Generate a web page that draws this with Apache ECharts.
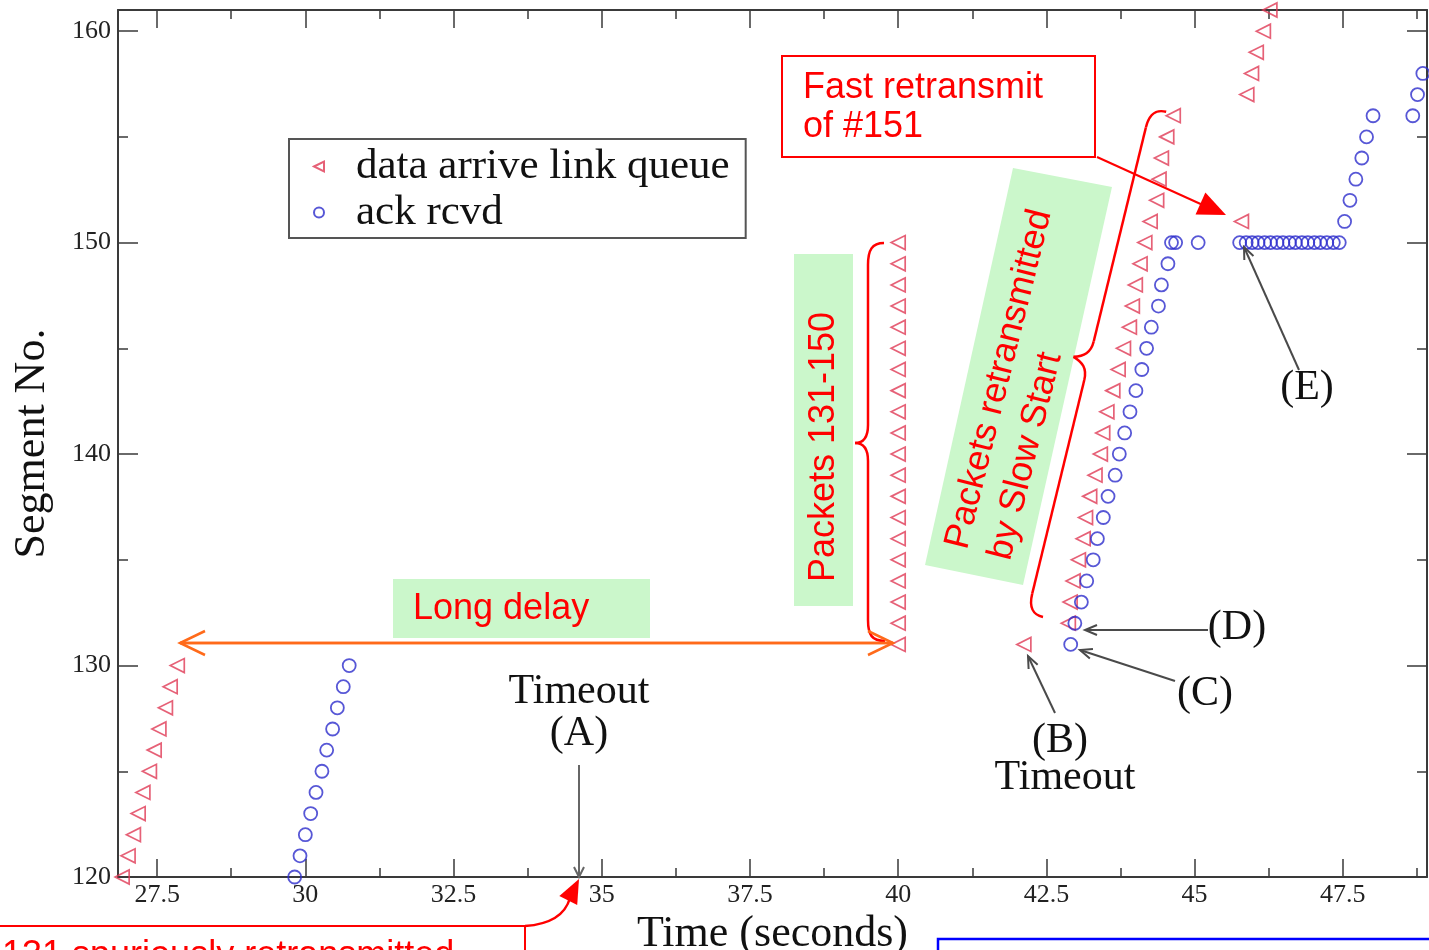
<!DOCTYPE html>
<html><head><meta charset="utf-8">
<script src="https://cdn.jsdelivr.net/npm/echarts@6/dist/echarts.min.js"></script>
<style>html,body{margin:0;padding:0;background:#fff;overflow:hidden}#c{width:1429px;height:950px}</style>
</head><body><div id="c"></div>
<script>
// ---------- axis ticks ----------
const xMajorTicks = [27.5, 30, 32.5, 35, 37.5, 40, 42.5, 45, 47.5];
const xMinorTicks = [28.75, 31.25, 33.75, 36.25, 38.75, 41.25, 43.75, 46.25, 48.75];
const yMajorTicks = [120, 130, 140, 150, 160];
const yMinorTicks = [125, 135, 145, 155];
const X_MIN = 26.84, X_MAX = 48.92, Y_MIN = 120, Y_MAX = 161;

// ---------- data arrive link queue (time, segment) ----------
const sendBurst1 = [[26.91,120],[27.01,121],[27.10,122],[27.18,123],[27.26,124],[27.37,125],[27.45,126],[27.53,127],[27.64,128],[27.72,129],[27.84,130]];
const sendBurst2 = [[40.00,131],[40.00,132],[40.00,133],[40.00,134],[40.00,135],[40.00,136],[40.00,137],[40.00,138],[40.00,139],[40.00,140],[40.00,141],[40.00,142],[40.00,143],[40.00,144],[40.00,145],[40.00,146],[40.00,147],[40.00,148],[40.00,149],[40.00,150]];
const sendTimeoutB = [[42.12,131]];
const sendSlowStart = [[42.87,132],[42.90,133],[42.95,134],[43.04,135],[43.12,136],[43.16,137],[43.23,138],[43.32,139],[43.41,140],[43.45,141],[43.52,142],[43.62,143],[43.71,144],[43.80,145],[43.90,146],[43.95,147],[44.00,148],[44.08,149],[44.16,150],[44.25,151],[44.36,152],[44.40,153],[44.44,154],[44.53,155],[44.64,156]];
const sendFastRetx = [[45.79,151]];
const sendBurst3 = [[45.88,157],[45.96,158],[46.04,159],[46.16,160],[46.27,161]];

// ---------- ack rcvd (time, segment) ----------
const ackBurst1 = [[29.82,120],[29.91,121],[30.00,122],[30.09,123],[30.18,124],[30.28,125],[30.36,126],[30.46,127],[30.54,128],[30.64,129],[30.74,130]];
const ackSlowStart = [[42.91,131],[42.98,132],[43.09,133],[43.18,134],[43.29,135],[43.36,136],[43.46,137],[43.54,138],[43.66,139],[43.73,140],[43.82,141],[43.91,142],[44.01,143],[44.11,144],[44.19,145],[44.27,146],[44.39,147],[44.44,148],[44.55,149],[44.61,150],[44.68,150],[45.06,150]];
const ackDup150 = [[45.76,150],[45.87,150],[45.97,150],[46.07,150],[46.18,150],[46.28,150],[46.39,150],[46.49,150],[46.60,150],[46.70,150],[46.81,150],[46.91,150],[47.02,150],[47.12,150],[47.23,150],[47.34,150],[47.44,150]];
const ackBurst2 = [[47.53,151],[47.62,152],[47.72,153],[47.82,154],[47.90,155],[48.01,156],[48.68,156],[48.76,157],[48.85,158]];

const sendData = [].concat(sendBurst1, sendBurst2, sendTimeoutB, sendSlowStart, sendFastRetx, sendBurst3);
const ackData = [].concat(ackBurst1, ackSlowStart, ackDup150, ackBurst2);

// ---------- styles ----------
const SERIF = '"Liberation Serif","DejaVu Serif",serif';
const SANS = '"Liberation Sans",Arial,sans-serif';
const AX = '#3a3a3a';
const RED = '#ff0000';
const GREEN = '#cbf7cb';
const GRAY = '#4a4a4a';
const MK_RED = '#e03a55';
const MK_BLUE = '#2d2dcc';

function tickAxis(kind, position, values, len, withLine) {
  return {
    type: 'value', position: position,
    min: kind === 'x' ? X_MIN : Y_MIN, max: kind === 'x' ? X_MAX : Y_MAX,
    splitLine: { show: false },
    axisLine: { show: !!withLine, onZero: false, lineStyle: { color: AX, width: 2 } },
    axisLabel: { show: false },
    axisTick: { show: true, inside: true, length: len, customValues: values, lineStyle: { color: AX, width: 1.5 } }
  };
}

const xMain = tickAxis('x', 'bottom', xMajorTicks, 18, true);
xMain.axisLabel = { show: true, customValues: xMajorTicks, fontFamily: SERIF, fontSize: 26, color: '#222', margin: 5 };
xMain.name = 'Time (seconds)';
xMain.nameLocation = 'middle';
xMain.nameGap = 20;
xMain.nameTextStyle = { fontFamily: SERIF, fontSize: 44, color: '#111', verticalAlign: 'top' };

const yMain = tickAxis('y', 'left', yMajorTicks, 20, true);
yMain.axisLabel = { show: true, customValues: yMajorTicks, fontFamily: SERIF, fontSize: 26, color: '#222', margin: 7 };
yMain.name = 'Segment No.';
yMain.nameLocation = 'middle';
yMain.nameGap = 64;
yMain.nameTextStyle = { fontFamily: SERIF, fontSize: 44, color: '#111' };

// ---------- annotation helpers ----------
function openArrow(x1, y1, x2, y2, color, w, hl, hw) {
  const dx = x2 - x1, dy = y2 - y1, L = Math.hypot(dx, dy), ux = dx / L, uy = dy / L;
  const bx = x2 - ux * hl, by = y2 - uy * hl, px = -uy * hw, py = ux * hw;
  return [
    { type: 'line', z: 20, shape: { x1: x1, y1: y1, x2: x2, y2: y2 }, style: { stroke: color, lineWidth: w } },
    { type: 'polyline', z: 20, shape: { points: [[bx + px, by + py], [x2, y2], [bx - px, by - py]] }, style: { stroke: color, lineWidth: w, fill: null } }
  ];
}
function filledHead(fx, fy, x2, y2, color, hl, hw) {
  const dx = x2 - fx, dy = y2 - fy, L = Math.hypot(dx, dy), ux = dx / L, uy = dy / L;
  const bx = x2 - ux * hl, by = y2 - uy * hl, px = -uy * hw, py = ux * hw;
  return { type: 'polygon', z: 20, shape: { points: [[x2, y2], [bx + px, by + py], [bx - px, by - py]] }, style: { fill: color } };
}
function txt(t, x, y, font, size, color, align, extra) {
  return Object.assign({ type: 'text', x: x, y: y, z: 20,
    style: { text: t, fontFamily: font, fontSize: size, fill: color, align: align || 'center', verticalAlign: 'middle' } }, extra || {});
}
// segments: ['M',x,y] | ['L',x,y] | ['C',c1x,c1y,c2x,c2y,x,y]
function pathEls(segs, style) {
  const out = []; let cx = 0, cy = 0;
  segs.forEach(s => {
    if (s[0] === 'M') { cx = s[1]; cy = s[2]; }
    else if (s[0] === 'L') { out.push({ type: 'line', shape: { x1: cx, y1: cy, x2: s[1], y2: s[2] }, style: style }); cx = s[1]; cy = s[2]; }
    else if (s[0] === 'C') { out.push({ type: 'bezierCurve', shape: { x1: cx, y1: cy, cpx1: s[1], cpy1: s[2], cpx2: s[3], cpy2: s[4], x2: s[5], y2: s[6] }, style: style }); cx = s[5]; cy = s[6]; }
  });
  return out;
}

const G = [];
// Long delay
G.push({ type: 'rect', shape: { x: 393, y: 579, width: 257, height: 59 }, style: { fill: GREEN } });
G.push(txt('Long delay', 413, 609, SANS, 36, RED, 'left'));
const ORANGE = '#ff6a1a';
G.push(...openArrow(893, 643, 180, 643, ORANGE, 2.5, 25, 12));
G.push(...openArrow(180, 643, 893, 643, ORANGE, 2.5, 25, 12));
// Packets 131-150
G.push({ type: 'rect', shape: { x: 794, y: 254, width: 59, height: 352 }, style: { fill: GREEN } });
G.push(txt('Packets 131-150', 824, 447, SANS, 36, RED, 'center', { rotation: Math.PI / 2 }));
const braceStyle = { stroke: RED, lineWidth: 2.5, fill: null };
G.push({ type: 'group', z: 20, children: pathEls([
  ['M', 884, 243], ['C', 872, 243, 868, 250, 868, 265], ['L', 868, 425], ['C', 868, 438, 863, 443, 855, 443],
  ['C', 863, 443, 868, 448, 868, 461], ['L', 868, 620], ['C', 868, 635, 872, 641, 885, 641]
], braceStyle) });
// Slow start box
G.push({ type: 'polygon', shape: { points: [[1013, 168], [1112, 187], [1023, 585], [925, 565]] }, style: { fill: GREEN } });
const ROT = 76 * Math.PI / 180;
G.push(txt('Packets retransmitted', 957, 548, SANS, 36, RED, 'left', { rotation: ROT }));
G.push(txt('by Slow Start', 1000, 559, SANS, 36, RED, 'left', { rotation: ROT }));
G.push({ type: 'group', x: 1043, y: 617, rotation: 76.3 * Math.PI / 180, z: 20, children: pathEls([
  ['M', 0, 0], ['C', 0, -10, 5, -16, 20, -16], ['L', 240, -16], ['C', 252, -16, 257, -22, 260, -32],
  ['C', 263, -22, 268, -16, 280, -16], ['L', 500, -16], ['C', 515, -16, 520, -10, 520, 0]
], braceStyle) });
// Fast retransmit
G.push({ type: 'rect', shape: { x: 782, y: 56, width: 313, height: 101 }, style: { fill: '#fff', stroke: RED, lineWidth: 2 } });
G.push(txt('Fast retransmit', 803, 88, SANS, 36, RED, 'left'));
G.push(txt('of #151', 803, 127, SANS, 36, RED, 'left'));
G.push({ type: 'line', z: 20, shape: { x1: 1097, y1: 157, x2: 1205, y2: 206 }, style: { stroke: RED, lineWidth: 2 } });
G.push(filledHead(1097, 157, 1226, 215, RED, 28, 12));
// Timeout (A)
G.push(txt('Timeout', 579, 692, SERIF, 42, '#111'));
G.push(txt('(A)', 579, 734, SERIF, 42, '#111'));
G.push(...openArrow(579, 765, 579, 877, '#666', 2, 10, 5));
// bottom-left red note
G.push({ type: 'polyline', z: 20, shape: { points: [[-5, 926], [525, 926], [525, 960]] }, style: { stroke: RED, lineWidth: 2, fill: null } });
G.push({ type: 'group', z: 20, children: pathEls([['M', 525, 926], ['C', 555, 924, 566, 912, 570, 898]], { stroke: RED, lineWidth: 2.5, fill: null }) });
G.push(filledHead(566, 905, 579, 879, RED, 24, 10));
G.push(txt('131 spuriously retransmitted', 2, 956, SANS, 36, RED, 'left'));
// bottom-right blue box
G.push({ type: 'rect', z: 20, shape: { x: 938, y: 939, width: 520, height: 60 }, style: { fill: null, stroke: '#0000ff', lineWidth: 2.5 } });
// (B) Timeout
G.push(txt('(B)', 1060, 741, SERIF, 42, '#111'));
G.push(txt('Timeout', 1065, 778, SERIF, 42, '#111'));
G.push(...openArrow(1055, 713, 1028, 656, GRAY, 2, 12, 5));
// (C)
G.push(txt('(C)', 1205, 694, SERIF, 42, '#111'));
G.push(...openArrow(1175, 681, 1080, 650, GRAY, 2, 12, 5));
// (D)
G.push(txt('(D)', 1237, 628, SERIF, 42, '#111'));
G.push(...openArrow(1208, 630, 1085, 630, GRAY, 2, 12, 5));
// (E)
G.push(txt('(E)', 1307, 388, SERIF, 42, '#111'));
G.push(...openArrow(1299, 370, 1244, 247, GRAY, 2, 12, 5));

const option = {
  animation: false,
  backgroundColor: '#fff',
  grid: { left: 118, right: 2, top: 10, bottom: 73, containLabel: false, outerBoundsMode: 'none' },
  xAxis: [xMain, tickAxis('x', 'bottom', xMinorTicks, 9, false), tickAxis('x', 'top', xMajorTicks, 18, true), tickAxis('x', 'top', xMinorTicks, 9, false)],
  yAxis: [yMain, tickAxis('y', 'left', yMinorTicks, 10, false), tickAxis('y', 'right', yMajorTicks, 20, true), tickAxis('y', 'right', yMinorTicks, 10, false)],
  legend: {
    left: 289, top: 139, orient: 'vertical',
    padding: [6, 16, 4, 24], itemGap: 3, itemWidth: 10, itemHeight: 10,
    borderColor: '#555', borderWidth: 2, backgroundColor: '#fff',
    textStyle: { fontFamily: SERIF, fontSize: 43, color: '#111', lineHeight: 40, padding: [0, 0, 0, 27] },
    data: [
      { name: 'data arrive link queue', icon: 'path://M0,5L10,0L10,10Z' },
      { name: 'ack rcvd', icon: 'circle' }
    ]
  },
  series: [
    { type: 'scatter', name: 'data arrive link queue', xAxisIndex: 0, yAxisIndex: 0, data: sendData,
      symbol: 'triangle', symbolRotate: 90, symbolSize: 14,
      itemStyle: { color: 'rgba(255,255,255,0)', borderColor: MK_RED, borderWidth: 1.7 }, emphasis: { disabled: true }, z: 3 },
    { type: 'scatter', name: 'ack rcvd', xAxisIndex: 0, yAxisIndex: 0, data: ackData,
      symbol: 'circle', symbolSize: 13,
      itemStyle: { color: 'rgba(255,255,255,0)', borderColor: MK_BLUE, borderWidth: 1.8 }, emphasis: { disabled: true }, z: 3 }
  ],
  graphic: G
};
const chart = echarts.init(document.getElementById('c'), null, { renderer: 'canvas' });
chart.setOption(option);
</script></body></html>
